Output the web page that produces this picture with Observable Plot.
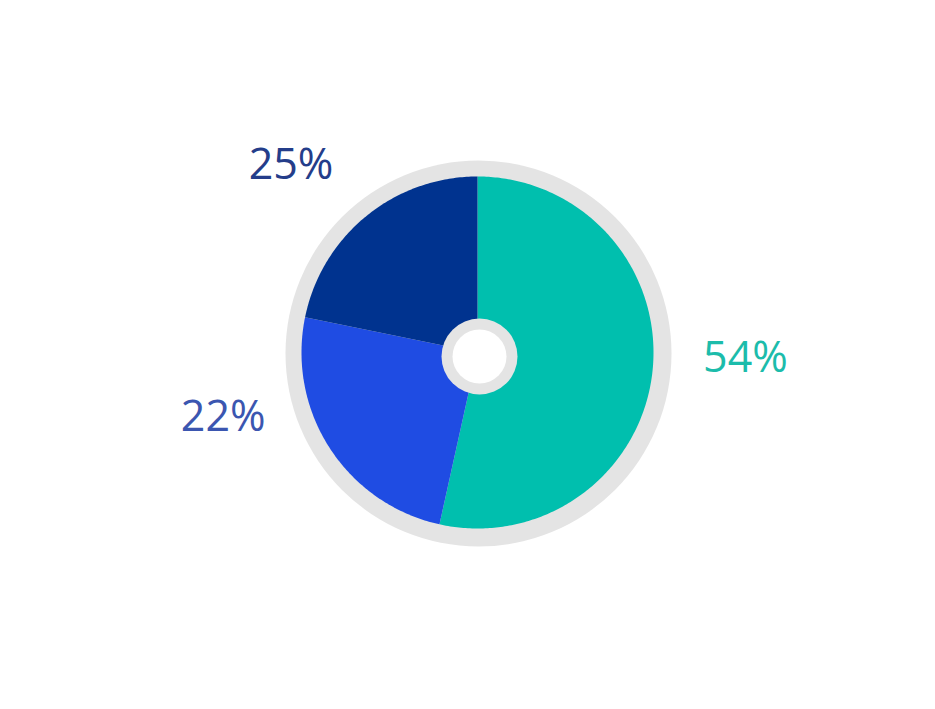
<!DOCTYPE html>
<html><head><meta charset="utf-8">
<script src="https://cdn.jsdelivr.net/npm/d3@7"></script>
<script src="https://cdn.jsdelivr.net/npm/@observablehq/plot@0.6"></script>
<style>body{margin:0;background:#fff}#chart svg{display:block}</style>
</head><body><div id="chart"></div>
<script>
// Data (slice order clockwise from 12 o'clock)
const categories = ["Segment A", "Segment B", "Segment C"];
const values = [54, 25, 22];
const colors = ["#00bfae", "#1f4ce3", "#00338f"];
// Labels as printed on the chart
const labelTexts = ["54%", "22%", "25%"];
const labelColors = ["#1cbcab", "#3b56b0", "#243d8a"];

// Layout (pixels)
const W = 935, H = 709;
const C = [477, 352];
const R = 176;
const ringC = [478, 353], ringR = 193;
const holeC = [479, 356], holeR = 38, holeInnerR = 27;
const labelAngles = [90.9, 256.1, 315.5];
const labelRadii = [268, 262, 266];

const pie = d3.pie().sort(null).value(d => d)(values);
const pt = (a, r) => [C[0] + r * Math.sin(a), C[1] - r * Math.cos(a)];
const slices = pie.map((p, i) => {
  const ring = [C];
  const n = Math.max(8, Math.ceil((p.endAngle - p.startAngle) * 80));
  for (let k = 0; k <= n; k++) ring.push(pt(p.startAngle + (p.endAngle - p.startAngle) * k / n, R));
  ring.push(C);
  return {type: "Feature", properties: {category: categories[i], color: colors[i]}, geometry: {type: "Polygon", coordinates: [ring]}};
});
const labelData = labelTexts.map((t, i) => {
  const a = labelAngles[i] * Math.PI / 180;
  const p = pt(a, labelRadii[i]);
  return {text: t, x: p[0], y: p[1], color: labelColors[i]};
});

const domain = {type: "Polygon", coordinates: [[[0,0],[W,0],[W,H],[0,H],[0,0]]]};

const chart = Plot.plot({
  width: W, height: H, margin: 0,
  projection: {type: "identity", domain},
  style: {background: "#fff"},
  marks: [
    Plot.dot([ringC], {x: d => d[0], y: d => d[1], r: ringR, fill: "#e4e4e4", stroke: null}),
    Plot.geo(slices, {fill: d => d.properties.color, stroke: null}),
    Plot.dot([holeC], {x: d => d[0], y: d => d[1], r: holeR, fill: "#e4e4e4", stroke: null}),
    Plot.dot([holeC], {x: d => d[0], y: d => d[1], r: holeInnerR, fill: "#ffffff", stroke: null}),
    Plot.text(labelData, {x: "x", y: "y", text: "text", fill: d => d.color, fontSize: 43, dy: 2, fontFamily: "Open Sans", textAnchor: "middle"})
  ]
});
document.getElementById("chart").append(chart);
</script>
</body></html>
